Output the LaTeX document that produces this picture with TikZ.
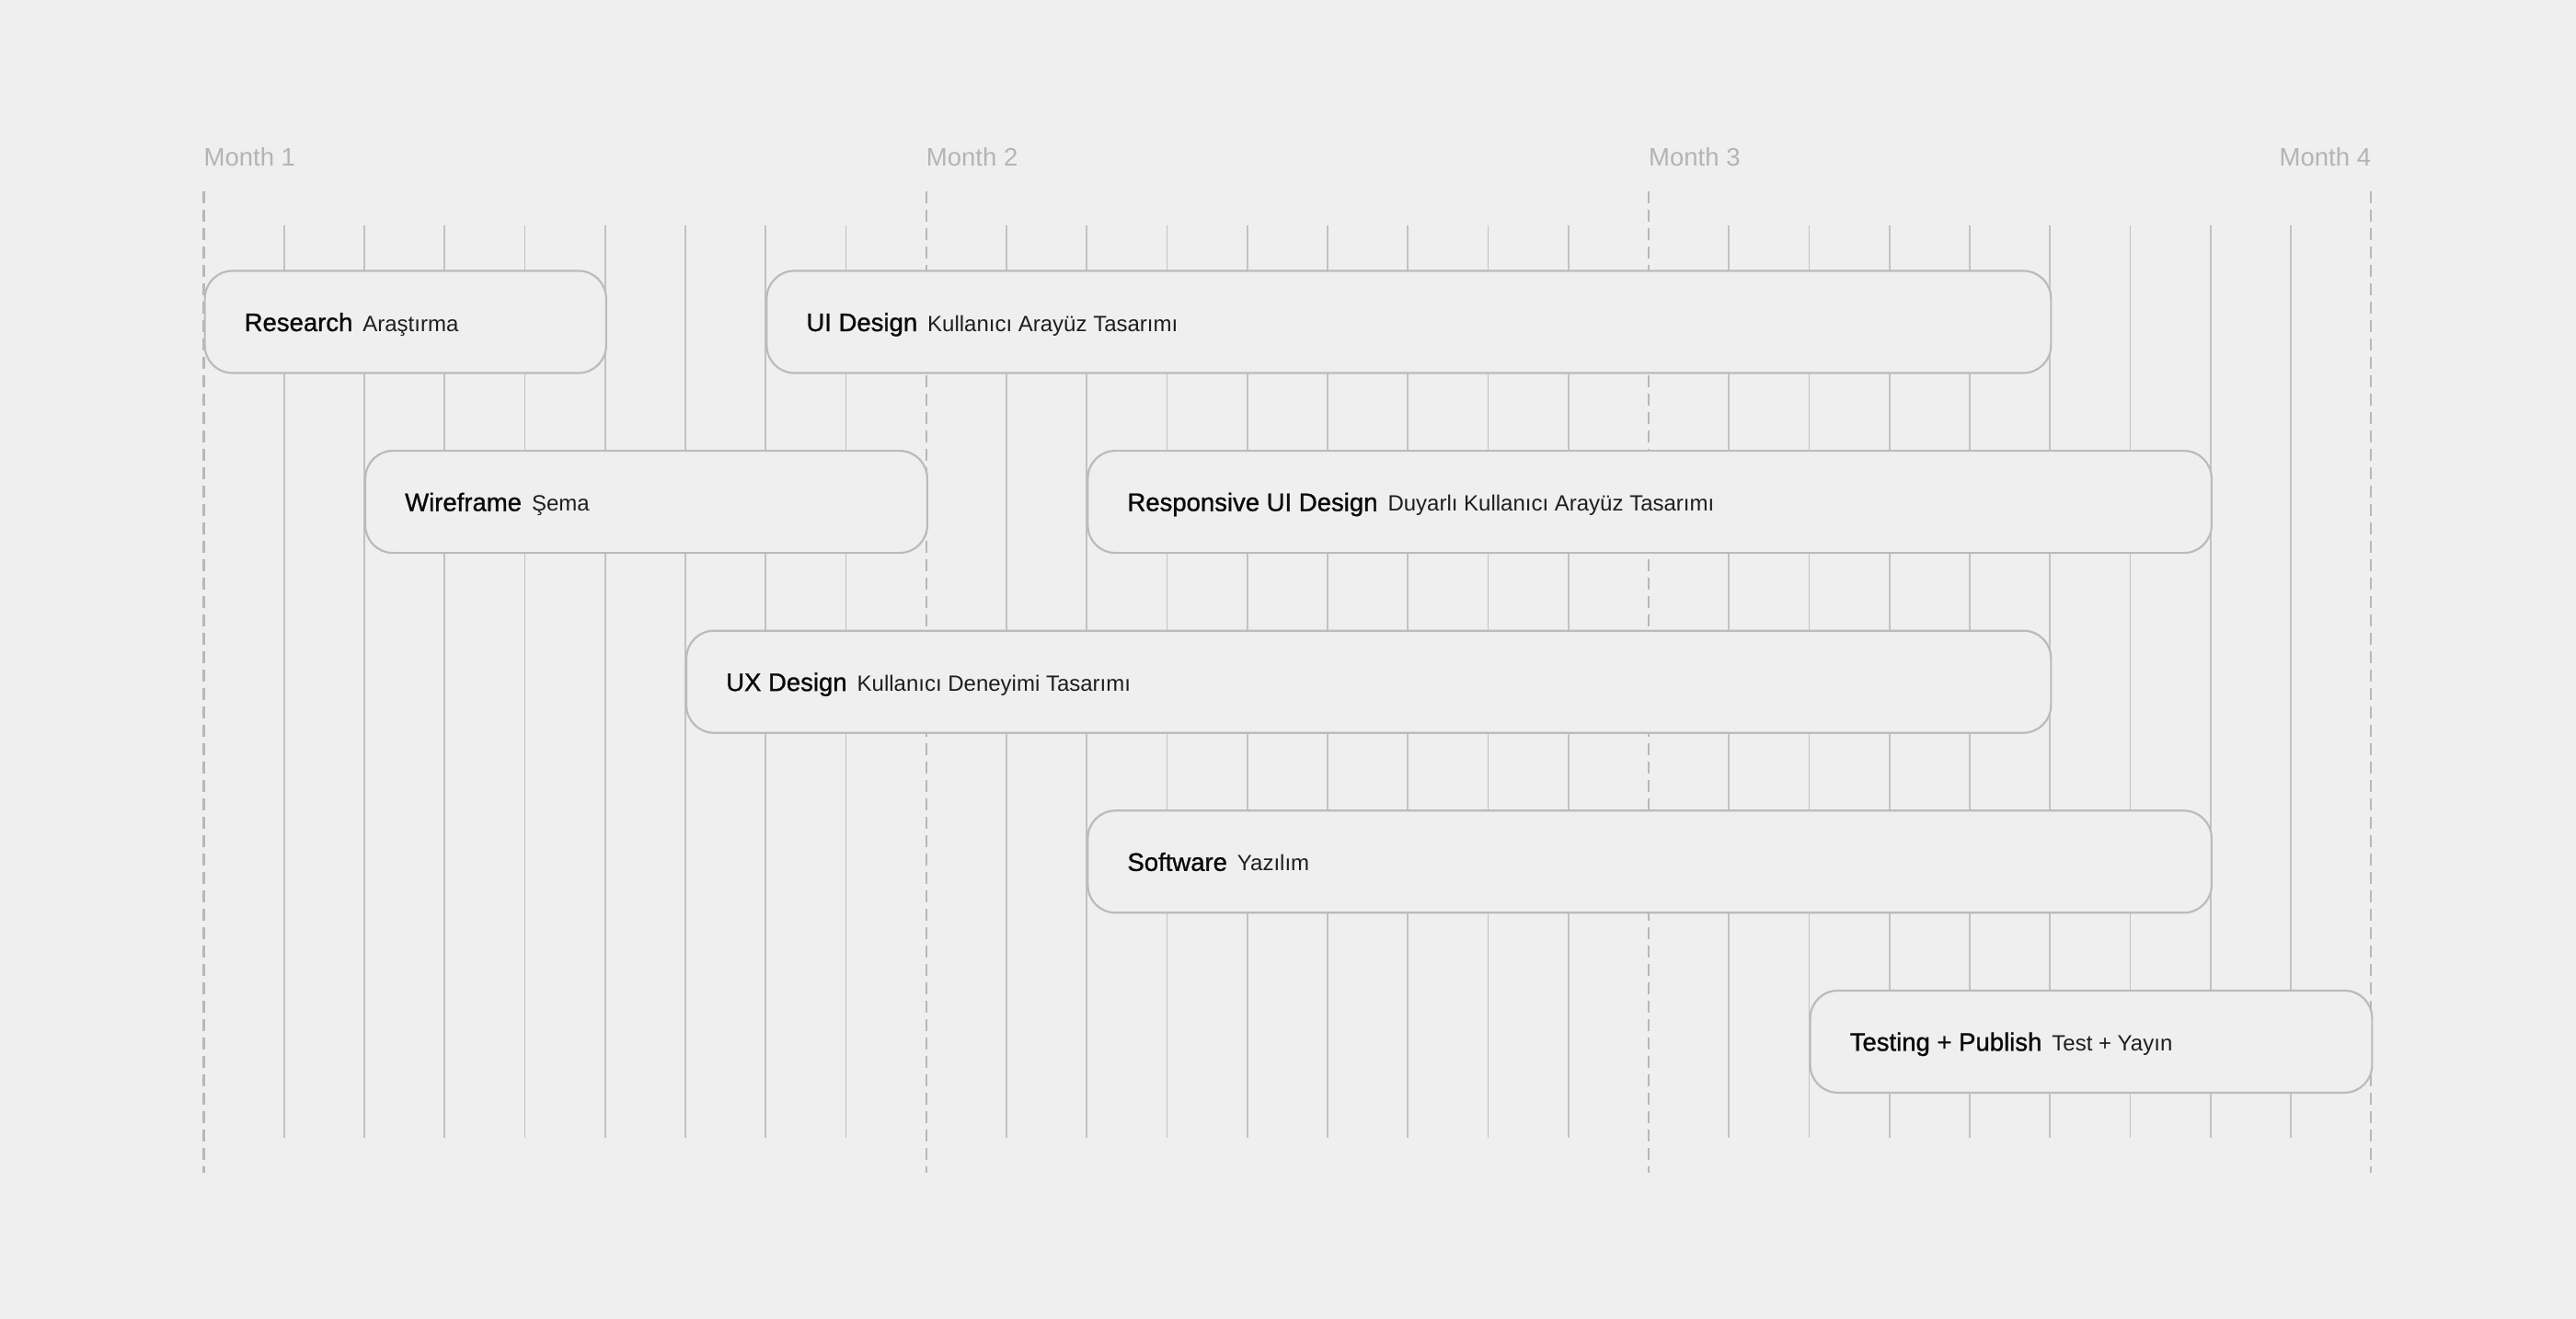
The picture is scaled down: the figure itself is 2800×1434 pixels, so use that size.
\documentclass[tikz,border=0pt]{standalone}
\usepackage{fontspec}
\setmainfont{Liberation Sans}
\newfontfamily\gtitlefont{Liberation Sans}[FakeBold=1.1]
\definecolor{bgc}{HTML}{EFEFEF}
\definecolor{gridc}{HTML}{C2C2C2}
\definecolor{boxc}{HTML}{BBBBBB}
\definecolor{monthc}{HTML}{B4B4B4}
\definecolor{titlec}{HTML}{0A0A0A}
\definecolor{subc}{HTML}{1E1E1E}
\newcommand\gtitle[1]{{\gtitlefont\fontsize{27.5}{33}\selectfont\color{titlec}#1}\hspace{11pt}}
\newcommand\gsub[1]{{\fontsize{24}{29}\selectfont\color{subc}#1}}
\begin{document}
\begin{tikzpicture}[x=1pt,y=-1pt,
  gridline/.style={draw=gridc,line width=1.6pt},
  monthline/.style={draw=gridc!95!black,line width=2.3pt,dash pattern=on 13pt off 7pt},
  bar/.style={draw=boxc,fill=bgc,line width=2.2pt,rounded corners=30pt,minimum height=111pt,inner sep=0pt,anchor=west},
  lbl/.style={inner sep=0pt,anchor=base west},
  monthlbl/.style={inner sep=0pt,text=monthc,font=\fontsize{27.5}{33}\selectfont}]
\path[use as bounding box,fill=bgc] (0,0) rectangle (2800,1434);
% solid grid lines
\foreach \i in {1,...,8,10,11,...,17,19,20,...,26}{
  \draw[gridline] ({221.5+87.25*\i},245) -- ({221.5+87.25*\i},1237);
}
% dashed month lines
\foreach \i in {0,9,18,27}{
  \draw[monthline] ({221.5+87.25*\i},208) -- ({221.5+87.25*\i},1275);
}
% month labels
\node[monthlbl,anchor=base west] (m1) at (221.5,180.7) {Month 1};
\node[monthlbl,anchor=base west] (m2) at ({221.5+87.25*9},180.7) {Month 2};
\node[monthlbl,anchor=base west] (m3) at ({221.5+87.25*18},180.7) {Month 3};
\node[monthlbl,anchor=base east] (m4) at ({221.5+87.25*27},180.7) {Month 4};
% bars
\node[bar,minimum width={5*87.25pt}] (research) at ({221.5+87.25*0},350) {};
\node[bar,minimum width={16*87.25pt}] (uidesign) at ({221.5+87.25*7},350) {};
\node[bar,minimum width={7*87.25pt}] (wireframe) at ({221.5+87.25*2},545.6) {};
\node[bar,minimum width={14*87.25pt}] (responsive) at ({221.5+87.25*11},545.6) {};
\node[bar,minimum width={17*87.25pt}] (uxdesign) at ({221.5+87.25*6},741.2) {};
\node[bar,minimum width={14*87.25pt}] (software) at ({221.5+87.25*11},936.8) {};
\node[bar,minimum width={7*87.25pt}] (testing) at ({221.5+87.25*20},1132.4) {};
% labels
\node[lbl] (researchT) at ([xshift=44pt,yshift=-10pt]research.west) {\gtitle{Research}\gsub{Araştırma}};
\node[lbl] (uidesignT) at ([xshift=44pt,yshift=-10pt]uidesign.west) {\gtitle{UI Design}\gsub{Kullanıcı Arayüz Tasarımı}};
\node[lbl] (wireframeT) at ([xshift=44pt,yshift=-10pt]wireframe.west) {\gtitle{Wireframe}\gsub{Şema}};
\node[lbl] (responsiveT) at ([xshift=44pt,yshift=-10pt]responsive.west) {\gtitle{Responsive UI Design}\gsub{Duyarlı Kullanıcı Arayüz Tasarımı}};
\node[lbl] (uxdesignT) at ([xshift=44pt,yshift=-10pt]uxdesign.west) {\gtitle{UX Design}\gsub{Kullanıcı Deneyimi Tasarımı}};
\node[lbl] (softwareT) at ([xshift=44pt,yshift=-10pt]software.west) {\gtitle{Software}\gsub{Yazılım}};
\node[lbl] (testingT) at ([xshift=44pt,yshift=-10pt]testing.west) {\gtitle{Testing + Publish}\gsub{Test + Yayın}};
\end{tikzpicture}
\end{document}
